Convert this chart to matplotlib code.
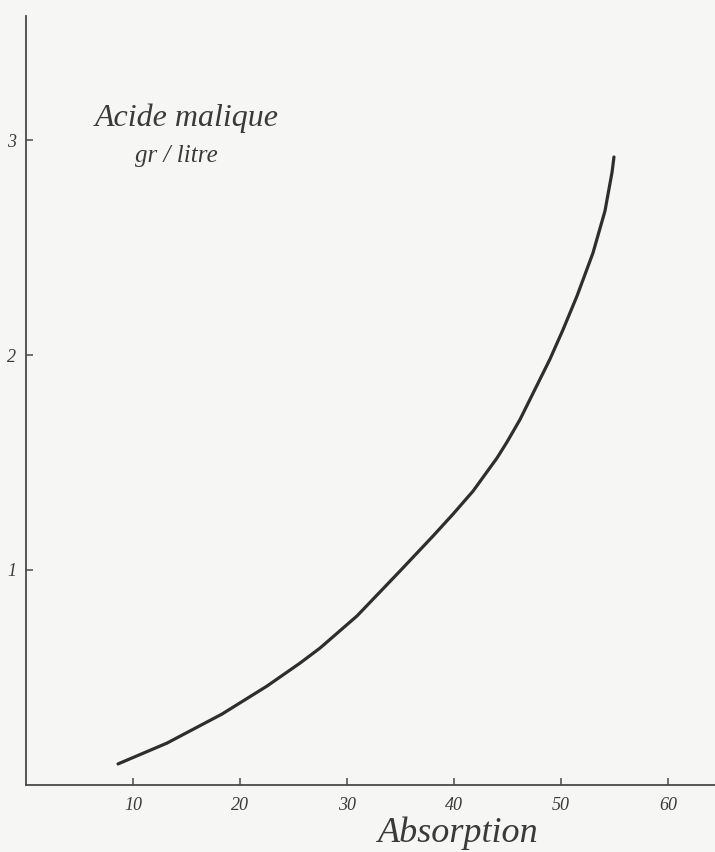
import matplotlib
matplotlib.use("Agg")
import matplotlib.pyplot as plt
import numpy as np

# Data
absorption = [8.60, 13.18, 18.32, 22.52, 25.61, 27.48, 30.93, 34.95, 38.04, 39.91, 41.78,
              44.02, 44.95, 46.17, 48.97, 50.19, 51.50, 52.99, 54.11, 54.77, 54.95]
acide = [0.098, 0.195, 0.330, 0.460, 0.567, 0.637, 0.786, 0.995, 1.158, 1.260, 1.367,
         1.521, 1.595, 1.700, 1.981, 2.118, 2.275, 2.475, 2.670, 2.850, 2.921]
x_ticks = [10, 20, 30, 40, 50, 60]
y_ticks = [1, 2, 3]

W, H = 715, 852
fig = plt.figure(figsize=(W / 100, H / 100), dpi=100)
bg = "#f6f6f4"
fig.patch.set_facecolor(bg)
ax = fig.add_axes([26 / W, 1 - 785 / H, 1 - 26 / W, (785 - 16) / H])
ax.set_facecolor(bg)

ax.plot(absorption, acide, color="#2e2e2e", lw=2.3, solid_capstyle="round",
        solid_joinstyle="round")

ax.set_xlim(0, (W - 26) / 10.7)
ax.set_ylim(0, (785 - 16) / 215)

for s in ["top", "right"]:
    ax.spines[s].set_visible(False)
for s in ["left", "bottom"]:
    ax.spines[s].set_color("#4a4a4a")
    ax.spines[s].set_linewidth(1.3)

font = dict(family="Liberation Serif", style="italic", color="#3a3a3a")
ax.set_xticks(x_ticks)
ax.set_xticklabels([str(t) for t in x_ticks], fontsize=13, **font)
ax.set_yticks(y_ticks)
ax.set_yticklabels([str(t) for t in y_ticks], fontsize=13, **font)
ax.tick_params(axis="both", direction="in", length=5, width=1.1, color="#4a4a4a")
ax.tick_params(axis="x", pad=9)
ax.tick_params(axis="y", pad=7)

fig.text(187 / W, 1 - 118 / H, "Acide malique", ha="center", va="center", fontsize=23, **font)
fig.text(176 / W, 1 - 156 / H, "gr / litre", ha="center", va="center", fontsize=18, **font)
fig.text(458 / W, 1 - 833 / H, "Absorption", ha="center", va="center", fontsize=26, **font)

fig.savefig("out.png", dpi=100, facecolor=fig.get_facecolor())
